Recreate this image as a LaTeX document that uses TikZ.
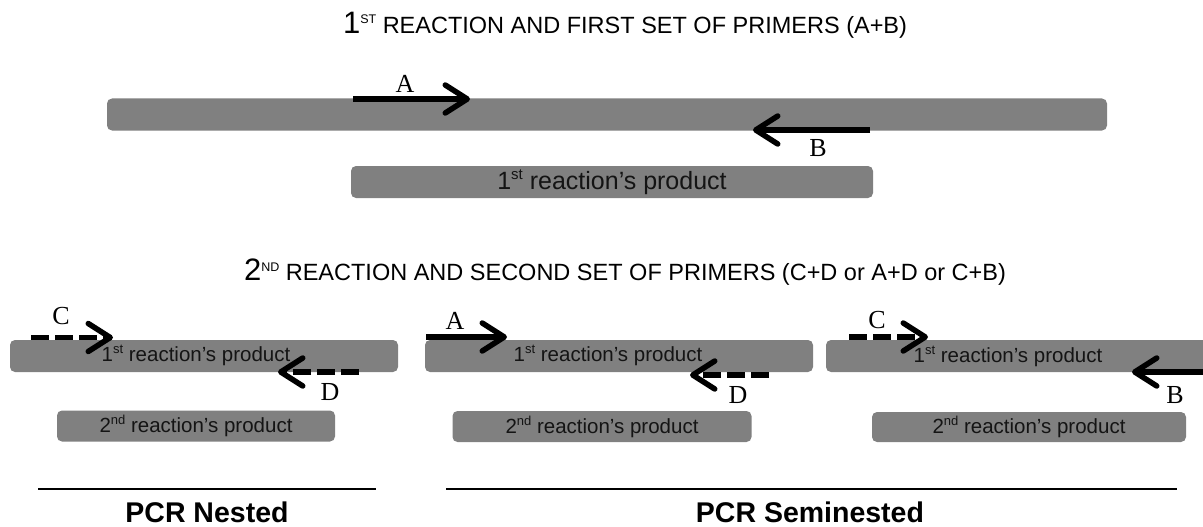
\documentclass[tikz,border=0pt]{standalone}
\usepackage{fontspec}
\setmainfont{Liberation Sans}
\newfontfamily\lblfont{Liberation Serif}
\usetikzlibrary{arrows.meta}
\definecolor{barg}{RGB}{128,128,128}
\definecolor{bartext}{RGB}{20,20,20}
\newcommand{\sups}[2]{\raisebox{0.75ex}{\fontsize{#1}{#1}\selectfont #2}}
\tikzset{
  bar/.style={fill=barg, rounded corners=5pt, inner sep=0pt, text=bartext},
  primer/.style={line width=5.5pt, -{Straight Barb[length=22pt,width=28pt,round]}},
  dprimer/.style={primer, dash pattern=on 18pt off 6pt},
  lbl/.style={font=\lblfont\fontsize{26}{26}\selectfont, inner sep=0pt},
  ttl/.style={font=\fontsize{23.5}{27}\selectfont, inner sep=0pt},
  bigtxt/.style={font=\fontsize{25}{28}\selectfont},
  smtxt/.style={font=\fontsize{20.5}{24}\selectfont},
  foot/.style={font=\bfseries\fontsize{28.5}{32}\selectfont, inner sep=0pt},
  rule/.style={line width=2pt}
}
\begin{document}
\begin{tikzpicture}[x=1pt,y=-1pt]
\useasboundingbox (0,0) rectangle (1203,527);
\clip (0,0) rectangle (1203,527);

% ---- first reaction ----
\node[ttl] (t1) at (625,25) {{\fontsize{31}{31}\selectfont 1}\sups{12.5}{ST} REACTION AND FIRST SET OF PRIMERS (A+B)};
\node[bar, minimum width=1000pt, minimum height=32pt] (big) at (607,114.5) {};
\coordinate (a1s) at (353,99);
\coordinate (a1e) at (470,99);
\draw[primer] (a1s) -- (a1e);
\node[lbl] (la1) at (405,84) {A};
\coordinate (b1s) at (870,130);
\coordinate (b1e) at (753,130);
\draw[primer] (b1s) -- (b1e);
\node[lbl] (lb1) at (818,148) {B};
\node[bar, bigtxt, minimum width=522pt, minimum height=32pt] (p1) at (612,182) {1\sups{15}{st} reaction’s product};

% ---- second reaction ----
\node[ttl] (t2) at (625,272) {{\fontsize{31}{31}\selectfont 2}\sups{12.5}{ND} REACTION AND SECOND SET OF PRIMERS (C+D or A+D or C+B)};

% panel 1: nested
\node[bar, minimum width=388pt, minimum height=32pt] (n1) at (204,356) {};
\node[smtxt, inner sep=0pt, text=bartext] (n1t) at (196,355) {1\sups{13}{st} reaction’s product};
\coordinate (cns) at (31,337.5);
\coordinate (cne) at (113,337.5);
\draw[dprimer] (cns) -- (cne);
\node[lbl] (lcn) at (61,316) {C};
\coordinate (dns) at (359,372);
\coordinate (dne) at (278,372);
\draw[dprimer] (dns) -- (dne);
\node[lbl] (ldn) at (330,392) {D};
\node[bar, smtxt, minimum width=278pt, minimum height=31pt] (n2) at (196,426) {2\sups{13}{nd} reaction’s product};

% panel 2: seminested A+D
\node[bar, minimum width=388pt, minimum height=32pt] (s1) at (619,356) {};
\node[smtxt, inner sep=0pt, text=bartext] (s1t) at (608,355) {1\sups{13}{st} reaction’s product};
\coordinate (ass) at (426,337);
\coordinate (ase) at (507,337);
\draw[primer] (ass) -- (ase);
\node[lbl] (las) at (455,321) {A};
\coordinate (dss) at (769,375);
\coordinate (dse) at (690,375);
\draw[dprimer] (dss) -- (dse);
\node[lbl] (lds) at (738,395) {D};
\node[bar, smtxt, minimum width=299pt, minimum height=31pt] (s2) at (602,426.5) {2\sups{13}{nd} reaction’s product};

% panel 3: seminested C+B
\node[bar, minimum width=400pt, minimum height=32pt] (r1) at (1026,356) {};
\node[smtxt, inner sep=0pt, text=bartext] (r1t) at (1008,356) {1\sups{13}{st} reaction’s product};
\coordinate (crs) at (849,337);
\coordinate (cre) at (928,337);
\draw[dprimer] (crs) -- (cre);
\node[lbl] (lcr) at (877,320) {C};
\coordinate (brs) at (1215,372);
\coordinate (bre) at (1132,372);
\draw[primer] (brs) -- (bre);
\node[lbl] (lbr) at (1175,395) {B};
\node[bar, smtxt, minimum width=314pt, minimum height=30pt] (r2) at (1029,427) {2\sups{13}{nd} reaction’s product};

% ---- footer ----
\coordinate (l1a) at (38,489);
\coordinate (l1b) at (376,489);
\coordinate (l2a) at (446,489);
\coordinate (l2b) at (1177,489);
\draw[rule] (l1a) -- (l1b);
\draw[rule] (l2a) -- (l2b);
\node[foot] (f1) at (207,512) {PCR Nested};
\node[foot] (f2) at (810,512) {PCR Seminested};
\end{tikzpicture}
\end{document}
